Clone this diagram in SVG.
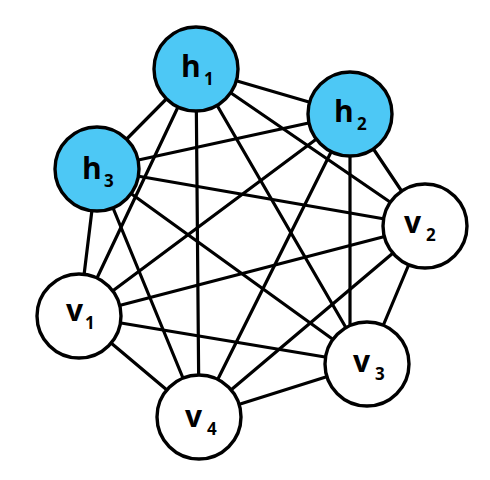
<svg xmlns="http://www.w3.org/2000/svg" width="490" height="480" viewBox="0 0 490 480">
<style>
.edge{stroke:#000;stroke-width:3.2;stroke-linecap:round}
.node{stroke:#000;stroke-width:3.4}
.h{fill:#4dc8f5}
.v{fill:#fff}
.lbl{font-family:"Open Sans","Liberation Sans",sans-serif;font-weight:bold;font-size:30px;fill:#000}
.sub{font-size:17px}
</style>
<rect width="490" height="480" fill="#fff"/>
<g id="connectors">
<line class="edge" x1="196" y1="69" x2="350" y2="114"/>
<line class="edge" x1="196" y1="69" x2="97" y2="169"/>
<line class="edge" x1="196" y1="69" x2="425" y2="226"/>
<line class="edge" x1="196" y1="69" x2="79" y2="316"/>
<line class="edge" x1="196" y1="69" x2="367" y2="364"/>
<line class="edge" x1="196" y1="69" x2="199" y2="417"/>
<line class="edge" x1="350" y1="114" x2="97" y2="169"/>
<line class="edge" x1="350" y1="114" x2="425" y2="226"/>
<line class="edge" x1="350" y1="114" x2="79" y2="316"/>
<line class="edge" x1="350" y1="114" x2="350" y2="364"/>
<line class="edge" x1="350" y1="114" x2="199" y2="417"/>
<line class="edge" x1="97" y1="169" x2="425" y2="226"/>
<line class="edge" x1="97" y1="169" x2="79" y2="316"/>
<line class="edge" x1="97" y1="169" x2="367" y2="364"/>
<line class="edge" x1="97" y1="169" x2="199" y2="417"/>
<line class="edge" x1="425" y1="226" x2="79" y2="316"/>
<line class="edge" x1="425" y1="226" x2="367" y2="364"/>
<line class="edge" x1="425" y1="226" x2="199" y2="417"/>
<line class="edge" x1="79" y1="316" x2="367" y2="364"/>
<line class="edge" x1="79" y1="316" x2="199" y2="417"/>
<line class="edge" x1="367" y1="364" x2="199" y2="417"/>
</g>
<g id="h1"><circle class="node h" cx="196" cy="69" r="42"/><text class="lbl"><tspan x="181" y="77">h</tspan><tspan class="sub" x="204" y="85">1</tspan></text></g>
<g id="h2"><circle class="node h" cx="350" cy="114" r="42"/><text class="lbl"><tspan x="334" y="122">h</tspan><tspan class="sub" x="357" y="130">2</tspan></text></g>
<g id="h3"><circle class="node h" cx="97" cy="169" r="42"/><text class="lbl"><tspan x="82" y="179">h</tspan><tspan class="sub" x="104" y="187">3</tspan></text></g>
<g id="v1"><circle class="node v" cx="79" cy="316" r="42"/><text class="lbl"><tspan x="66" y="321">v</tspan><tspan class="sub" x="85" y="329">1</tspan></text></g>
<g id="v2"><circle class="node v" cx="425" cy="226" r="42"/><text class="lbl"><tspan x="404" y="233">v</tspan><tspan class="sub" x="426" y="241">2</tspan></text></g>
<g id="v3"><circle class="node v" cx="367" cy="364" r="42"/><text class="lbl"><tspan x="353" y="372">v</tspan><tspan class="sub" x="375" y="380">3</tspan></text></g>
<g id="v4"><circle class="node v" cx="199" cy="417" r="42"/><text class="lbl"><tspan x="185" y="427">v</tspan><tspan class="sub" x="207" y="435">4</tspan></text></g>
</svg>
